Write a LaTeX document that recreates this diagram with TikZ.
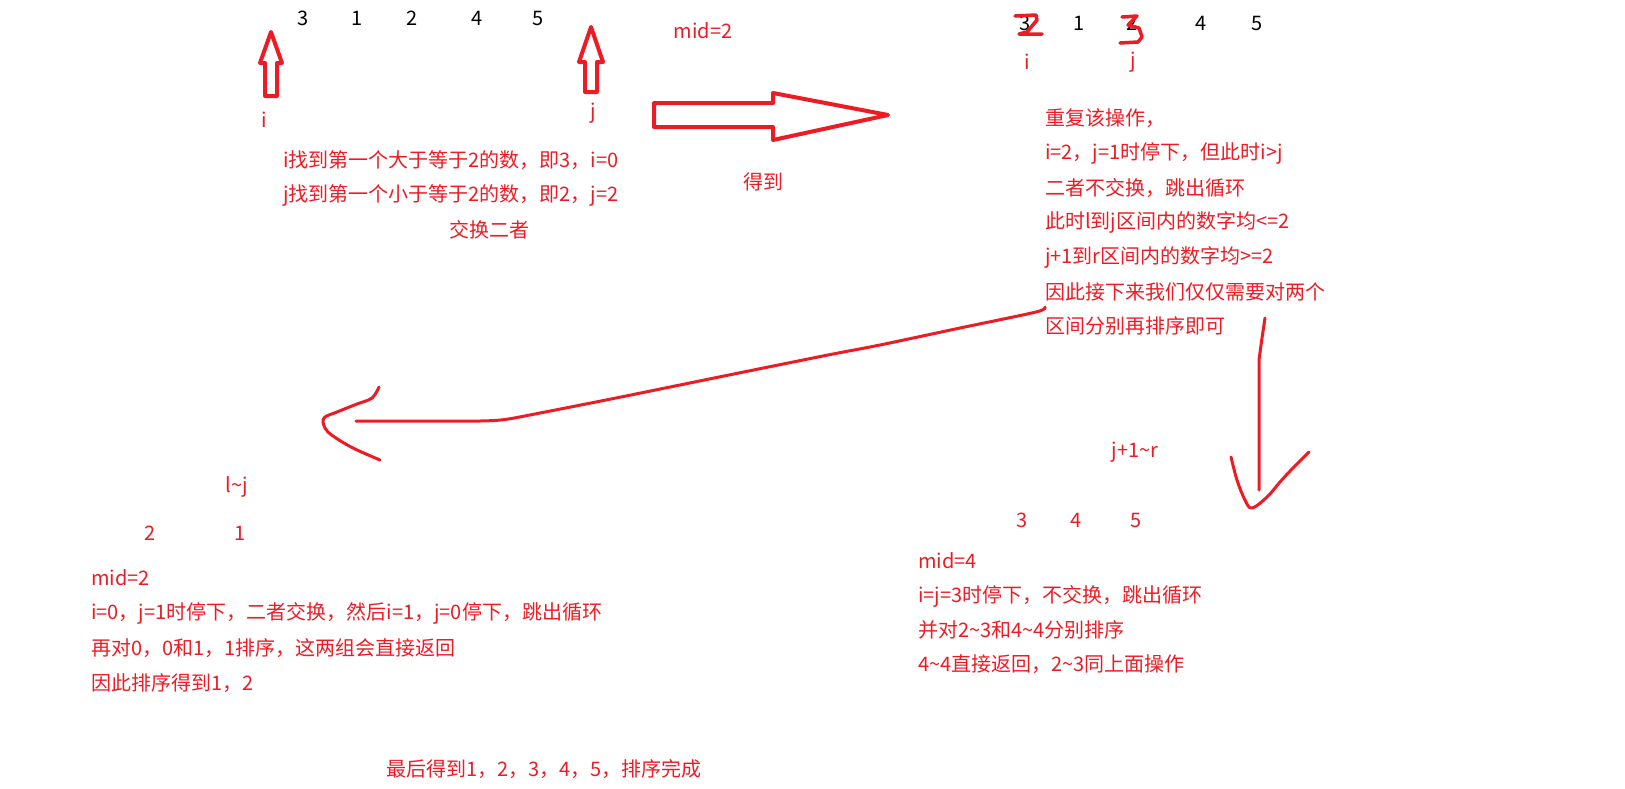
\documentclass[tikz,border=0pt]{standalone}
\usepackage{fontspec}
\setmainfont{Noto Sans CJK SC}
\definecolor{pen}{RGB}{237,28,36}
\tikzset{
  txt/.style={inner sep=0pt, font=\fontsize{20}{24}\selectfont, text=pen},
  blk/.style={txt, text=black},
  lft/.style={txt, anchor=west},
  stroke/.style={draw=pen, line width=4pt, line join=round, line cap=round},
  hollow/.style={stroke, fill=white},
  pencil/.style={draw=pen, line width=3pt, line join=round, line cap=round},
}
\begin{document}
\begin{tikzpicture}[x=1pt, y=-1pt]
\useasboundingbox (0,0) rectangle (1625,788);
\fill[white] (0,0) rectangle (1625,788);

% ---- top left: array and pointers
\node[blk] (a1) at (303,18) {3};
\node[blk] (a2) at (357,18) {1};
\node[blk] (a3) at (412,18) {2};
\node[blk] (a4) at (477,18) {4};
\node[blk] (a5) at (538,18) {5};

\draw[hollow] (271,32) -- (282,63) -- (277,63) -- (277,96) -- (265,96) -- (265,63) -- (260,63) -- cycle;
\draw[hollow] (591,27) -- (603,62) -- (597,62) -- (597,92) -- (585,92) -- (585,62) -- (579,62) -- cycle;

\node[txt] (pi) at (264,120) {i};
\node[txt] (pj) at (593,113) {j};
\node[lft] (t1) at (283,160) {i找到第一个大于等于2的数，即3，i=0};
\node[lft] (t2) at (283,195) {j找到第一个小于等于2的数，即2，j=2};
\node[txt] (t3) at (489,230) {交换二者};

\node[txt] (mid1) at (703,31) {mid=2};

% big hollow arrow
\draw[hollow] (654,103) -- (773,103) -- (773,93) -- (888,115) -- (773,140) -- (773,127) -- (654,127) -- cycle;
\node[txt] (got) at (763,182) {得到};

% ---- top right: array after swap
\node[blk] (b1) at (1025,23) {3};
\node[blk] (b2) at (1079,23) {1};
\node[blk] (b3) at (1132,23) {2};
\node[blk] (b4) at (1201,23) {4};
\node[blk] (b5) at (1257,23) {5};
\draw[stroke, line width=3.5pt] (1015,16) -- (1036,15) -- (1037,20) -- (1027,32) -- (1019,34) -- (1042,34);
\draw[stroke, line width=3.5pt] (1122,17) -- (1137,16) -- (1128,25) -- (1139,28) -- (1142,37) -- (1138,42) -- (1120,43);
\node[txt] (qi) at (1027,62) {i};
\node[txt] (qj) at (1133,62) {j};

\node[lft] (r1) at (1045,118) {重复该操作，};
\node[lft] (r2) at (1045,153) {i=2，j=1时停下，但此时i>j};
\node[lft] (r3) at (1045,188) {二者不交换，跳出循环};
\node[lft] (r4) at (1045,222) {此时l到j区间内的数字均<=2};
\node[lft] (r5) at (1045,257) {j+1到r区间内的数字均>=2};
\node[lft] (r6) at (1045,292) {因此接下来我们仅仅需要对两个};
\node[lft] (r7) at (1045,326) {区间分别再排序即可};

% ---- hand-drawn arrow to the left part
\coordinate (wstart) at (1045,307);
\coordinate (wend) at (356,421);
\draw[pencil] plot[smooth, tension=0.5] coordinates {(wstart) (1036,312) (960,328) (880,345) (828,355) (724,376) (621,397) (540,413) (505,419.5) (480,421) (440,421)} -- (wend);
\draw[pencil] plot[smooth, tension=0.6] coordinates {(379,387) (372,398) (357,404) (337,412) (324,418) (325,428) (333,436) (353,448) (380,460)};

% ---- hand-drawn arrow down to the right part
\coordinate (dstart) at (1265,318);
\coordinate (dend) at (1259,490);
\draw[pencil] (dstart) -- (1262,338) -- (1259,360) -- (dend);
\draw[pencil] plot[smooth, tension=0.6] coordinates {(1231,457) (1237,480) (1245,500) (1252,508) (1267,497) (1280,482) (1292,469) (1309,452)};

% ---- left part
\node[txt] (lj) at (237,487) {l\textasciitilde j};
\node[txt] (c1) at (150,533) {2};
\node[txt] (c2) at (240,533) {1};
\node[lft] (l1) at (91,578) {mid=2};
\node[lft] (l2) at (91,613) {i=0，j=1时停下，二者交换，然后i=1，j=0停下，跳出循环};
\node[lft] (l3) at (91,648) {再对0，0和1，1排序，这两组会直接返回};
\node[lft] (l4) at (91,683) {因此排序得到1，2};

% ---- right part
\node[txt] (jr) at (1135,452) {j+1\textasciitilde r};
\node[txt] (d1) at (1022,520) {3};
\node[txt] (d2) at (1076,520) {4};
\node[txt] (d3) at (1136,520) {5};
\node[lft] (m1) at (918,561) {mid=4};
\node[lft] (m2) at (918,596) {i=j=3时停下，不交换，跳出循环};
\node[lft] (m3) at (918,630) {并对2\textasciitilde 3和4\textasciitilde 4分别排序};
\node[lft] (m4) at (918,664) {4\textasciitilde 4直接返回，2\textasciitilde 3同上面操作};

% ---- final line
\node[lft] (fin) at (386,769) {最后得到1，2，3，4，5，排序完成};
\end{tikzpicture}
\end{document}
